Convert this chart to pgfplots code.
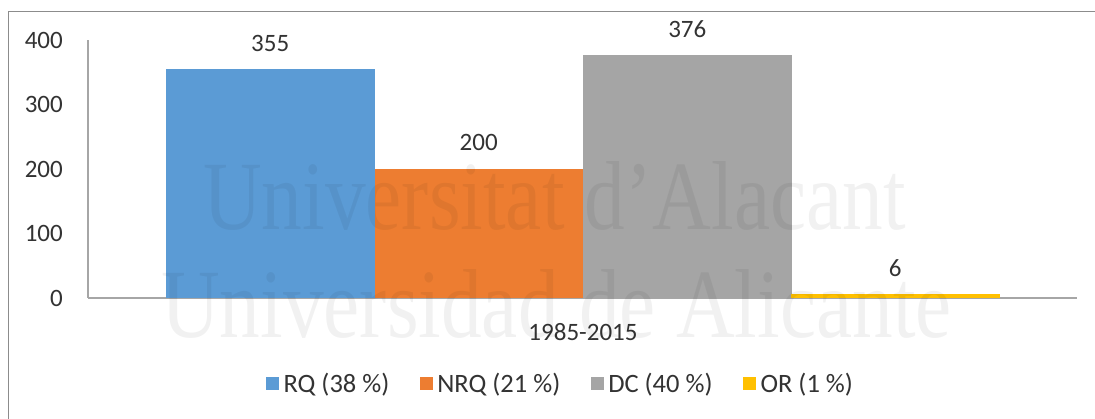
\documentclass[border=0pt]{standalone}
\usepackage{pgfplots}
\pgfplotsset{compat=1.18}
\usepackage{fontspec}
\setmainfont{Carlito}
\newfontfamily\wmfont{Liberation Serif}
\definecolor{cRQ}{HTML}{5B9BD5}
\definecolor{cNRQ}{HTML}{ED7D31}
\definecolor{cDC}{HTML}{A5A5A5}
\definecolor{cOR}{HTML}{FFC000}
\definecolor{txt}{HTML}{333333}
\begin{document}
\begin{tikzpicture}[x=1pt,y=1pt]
\useasboundingbox (0,0) rectangle (1095,419);
\fill[white] (0,0) rectangle (1095,419);
\draw[color=black!45, line width=1.5pt] (8.5,0) -- (8.5,407.5) -- (1095,407.5);
\begin{axis}[
  at={(88pt,121pt)}, anchor=south west,
  width=989pt, height=258pt, scale only axis,
  xmin=88, xmax=1077, ymin=0, ymax=400,
  axis x line*=bottom, axis y line*=left,
  axis line style={-, draw=black!35, line width=1.3pt},
  major tick length=0pt,
  ytick={0,100,200,300,400},
  xtick={583}, xticklabels={1985-2015},
  /pgf/number format/assume math mode=true,
  tick label style={font=\fontsize{25}{29}\selectfont, text=txt},
  yticklabel style={anchor=east, inner sep=0pt, xshift=-25pt},
  xticklabel style={anchor=north, inner sep=0pt, yshift=-25pt},
  bar width=208.5pt,
  every axis plot/.append style={ybar, bar shift=0pt, draw=none},
  nodes near coords,
  every node near coord/.append style={anchor=base, inner sep=0pt, yshift=18pt, font=\fontsize{25}{29}\selectfont, text=txt},
  legend image code/.code={\fill[#1] (0pt,-6.5pt) rectangle (13pt,6.5pt);},
  legend style={at={(0.479,-0.3333)}, anchor=center, draw=none, fill=none,
    legend columns=-1, font=\fontsize{26.5}{30}\selectfont, text=txt,
    /tikz/every even column/.append style={column sep=26pt},
    nodes={inner xsep=4.5pt, inner ysep=2pt}},
]
\addplot[fill=cRQ, draw=none] coordinates {(270.25,355)};
\addlegendentry{RQ (38 \%)}
\addplot[fill=cNRQ, draw=none] coordinates {(478.75,200)};
\addlegendentry{NRQ (21 \%)}
\addplot[fill=cDC, draw=none] coordinates {(687.25,376)};
\addlegendentry{DC (40 \%)}
\addplot[fill=cOR, draw=none] coordinates {(895.25,6)};
\addlegendentry{OR (1 \%)}
\end{axis}
\node[anchor=base west, inner sep=0pt, xscale=0.83, text=black, opacity=0.055, font=\wmfont\fontsize{98}{100}\selectfont] at (203,189) {Universitat d’Alacant};
\node[anchor=base west, inner sep=0pt, xscale=0.83, text=black, opacity=0.055, font=\wmfont\fontsize{98}{100}\selectfont] at (161,81) {Universidad de Alicante};
\end{tikzpicture}
\end{document}
